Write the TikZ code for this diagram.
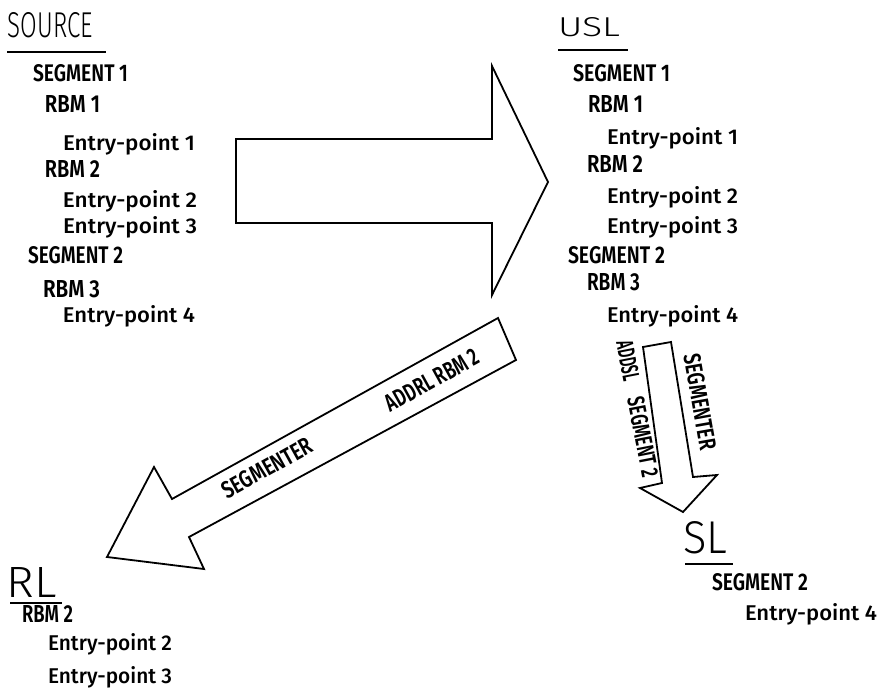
\documentclass[tikz,border=0pt]{standalone}
\usepackage{fontspec}
\setmainfont{Fira Sans}
\newfontfamily\ttlfont{Fira Sans}[UprightFont=* Light]
\newfontfamily\capfont{Fira Sans}[UprightFont=* SemiBold]
\newfontfamily\entfont{Fira Sans}[UprightFont=* Medium]
\newcommand\fitbox[3]{\resizebox{#1pt}{#2pt}{#3}}
\newcommand\ttl[3]{\fitbox{#1}{#2}{\ttlfont #3}}
\newcommand\cp[2]{\fitbox{#1}{17}{\capfont #2}}
\newcommand\ep[2]{\fitbox{#1}{17}{\entfont #2}}
\tikzset{
  txt/.style={anchor=base west, inner sep=0pt, outer sep=0pt},
  rtxt/.style={anchor=center, inner sep=0pt, outer sep=0pt},
  bigarrow/.style={draw, line width=1.8pt, line join=miter},
  uline/.style={draw, line width=1.6pt}
}
\begin{document}
\begin{tikzpicture}[x=1pt,y=-1pt]
\useasboundingbox (0,0) rectangle (881,690);

% SOURCE column
\node[txt] (src) at (8,38) {\ttl{85}{25}{SOURCE}};
\draw[uline] (7,52) -- (106,52);
\node[txt] (s1) at (33,82) {\cp{95}{SEGMENT 1}};
\node[txt] (r1) at (45,113) {\cp{55}{RBM 1}};
\node[txt] (e1) at (63,150) {\ep{132}{Entry-point 1}};
\node[txt] (r2) at (45,178) {\cp{55}{RBM 2}};
\node[txt] (e2) at (63,207) {\ep{134}{Entry-point 2}};
\node[txt] (e3) at (63,233) {\ep{134}{Entry-point 3}};
\node[txt] (s2) at (28,263) {\cp{95}{SEGMENT 2}};
\node[txt] (r3) at (43,297) {\cp{57}{RBM 3}};
\node[txt] (e4) at (63,322) {\ep{132}{Entry-point 4}};

% USL column
\node[txt] (usl) at (558,37) {\ttl{62}{19}{USL}};
\draw[uline] (558,50) -- (628,50);
\node[txt] (us1) at (573,82) {\cp{97}{SEGMENT 1}};
\node[txt] (ur1) at (588,113) {\cp{55}{RBM 1}};
\node[txt] (ue1) at (607,145) {\ep{131}{Entry-point 1}};
\node[txt] (ur2) at (587,172) {\cp{56}{RBM 2}};
\node[txt] (ue2) at (607,203) {\ep{131}{Entry-point 2}};
\node[txt] (ue3) at (607,233) {\ep{131}{Entry-point 3}};
\node[txt] (us2) at (568,263) {\cp{97}{SEGMENT 2}};
\node[txt] (ur3) at (587,290) {\cp{53}{RBM 3}};
\node[txt] (ue4) at (607,322) {\ep{131}{Entry-point 4}};

% SL
\node[txt] (sl) at (683,553) {\ttl{44}{32}{SL}};
\draw[uline] (685,564) -- (733,564);
\node[txt] (ss2) at (712,590) {\cp{96}{SEGMENT 2}};
\node[txt] (se4) at (745,620) {\ep{132}{Entry-point 4}};

% RL
\node[txt] (rl) at (7,597) {\ttl{50}{30}{RL}};
\draw[uline] (10,603) -- (62,603);
\node[txt] (rr2) at (22,622) {\cp{51}{RBM 2}};
\node[txt] (re2) at (48,650) {\ep{124}{Entry-point 2}};
\node[txt] (re3) at (48,683) {\ep{124}{Entry-point 3}};

% big right arrow
\draw[bigarrow] (236,139) -- (492,139) -- (492,66) -- (548,182) -- (492,295)
  -- (492,223) -- (236,223) -- cycle;

% diagonal arrow to RL
\draw[bigarrow] (498,318) -- (516,360) -- (189,537) -- (204,569) -- (107,557)
  -- (154,467) -- (172,499) -- cycle;
\node[rtxt, rotate=29] (dseg) at (267,468) {\cp{100}{SEGMENTER}};
\node[rtxt, rotate=29] (daddrl) at (432,380) {\cp{104}{ADDRL RBM 2}};

% vertical arrow to SL
\draw[bigarrow] (643,347) -- (671,342) -- (693,477) -- (717,475) -- (683,512)
  -- (640,488) -- (662,483) -- cycle;
\node[rtxt, rotate=-80] (vseg) at (700,402) {\cp{97}{SEGMENTER}};
\node[rtxt, rotate=-79] (vaddsl) at (628,361) {\cp{40}{ADDSL}};
\node[rtxt, rotate=-79] (vsegm) at (643,437) {\cp{81}{SEGMENT 2}};
\end{tikzpicture}
\end{document}
